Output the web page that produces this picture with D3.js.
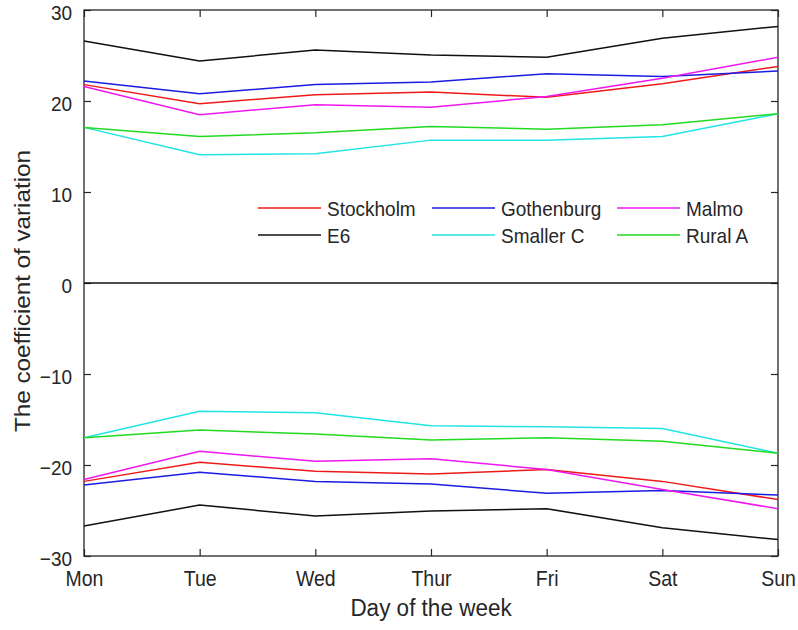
<!DOCTYPE html>
<html>
<head>
<meta charset="utf-8">
<script src="https://cdn.jsdelivr.net/npm/d3@7/dist/d3.min.js"></script>
<style>
  html, body { margin: 0; padding: 0; background: #ffffff; }
  svg text { font-family: Arial, "Liberation Sans", Helvetica, sans-serif; fill: #262626; }
</style>
</head>
<body>
<svg id="chart" width="798" height="630"></svg>
<script>
// Days on the x axis
const days = ["Mon", "Tue", "Wed", "Thur", "Fri", "Sat", "Sun"];
const yTicks = [-30, -20, -10, 0, 10, 20, 30];

// Upper envelope of the coefficient of variation per region
const stockholmUpper  = [21.8, 19.7, 20.7, 21.0, 20.4, 21.9, 23.8];
const gothenburgUpper = [22.2, 20.8, 21.8, 22.1, 23.0, 22.7, 23.3];
const malmoUpper      = [21.6, 18.5, 19.6, 19.3, 20.5, 22.5, 24.8];
const e6Upper         = [26.6, 24.4, 25.6, 25.05, 24.8, 26.9, 28.2];
const smallerCUpper   = [17.1, 14.1, 14.2, 15.7, 15.7, 16.1, 18.6];
const ruralAUpper     = [17.1, 16.1, 16.5, 17.2, 16.9, 17.4, 18.6];

// Lower envelope
const stockholmLower  = [-21.8, -19.7, -20.7, -21.0, -20.5, -21.8, -23.8];
const gothenburgLower = [-22.2, -20.8, -21.8, -22.1, -23.1, -22.8, -23.3];
const malmoLower      = [-21.6, -18.5, -19.6, -19.3, -20.5, -22.7, -24.8];
const e6Lower         = [-26.7, -24.4, -25.6, -25.05, -24.8, -26.9, -28.2];
const smallerCLower   = [-17.0, -14.1, -14.25, -15.7, -15.8, -16.0, -18.7];
const ruralALower     = [-17.0, -16.15, -16.6, -17.25, -17.0, -17.4, -18.7];

// Zero reference line
const zeroLine = [0, 0, 0, 0, 0, 0, 0];

const seriesNames  = ["Stockholm", "Gothenburg", "Malmo", "E6", "Smaller C", "Rural A"];
const seriesColors = ["#ee1a1a", "#1c1ce0", "#ee18ee", "#111111", "#22e4e4", "#22da22"];

const series = [
  { name: seriesNames[0], color: seriesColors[0], upper: stockholmUpper,  lower: stockholmLower },
  { name: seriesNames[1], color: seriesColors[1], upper: gothenburgUpper, lower: gothenburgLower },
  { name: seriesNames[2], color: seriesColors[2], upper: malmoUpper,      lower: malmoLower },
  { name: seriesNames[3], color: seriesColors[3], upper: e6Upper,         lower: e6Lower },
  { name: seriesNames[4], color: seriesColors[4], upper: smallerCUpper,   lower: smallerCLower },
  { name: seriesNames[5], color: seriesColors[5], upper: ruralAUpper,     lower: ruralALower }
];

const svg = d3.select("#chart");
const plotLeft = 84, plotRight = 778, plotTop = 10, plotBottom = 556;
const axisColor = "#262626";
const stretch = 1.1; // text is drawn slightly taller than wide

const x = d3.scalePoint().domain(days).range([plotLeft, plotRight]);
const y = d3.scaleLinear().domain([-30, 30]).range([plotBottom, plotTop]);

// Plot box
svg.append("rect")
  .attr("x", plotLeft).attr("y", plotTop)
  .attr("width", plotRight - plotLeft).attr("height", plotBottom - plotTop)
  .attr("fill", "#ffffff").attr("stroke", axisColor).attr("stroke-width", 1.3);

// Inward ticks on all four sides
function styleAxis(g) {
  g.select(".domain").remove();
  g.selectAll(".tick line").attr("stroke", axisColor).attr("stroke-width", 1.2);
}

svg.append("g").attr("transform", `translate(0,${plotBottom})`)
  .call(d3.axisBottom(x).tickSizeInner(-7).tickSizeOuter(0).tickPadding(0))
  .call(styleAxis)
  .call(g => g.selectAll(".tick text")
    .attr("y", 0).attr("dy", null)
    .attr("font-size", 19.5)
    .attr("text-anchor", "middle")
    .attr("transform", `translate(0,${30}) scale(1,${stretch})`));

svg.append("g").attr("transform", `translate(0,${plotTop})`)
  .call(d3.axisTop(x).tickSizeInner(-7).tickSizeOuter(0).tickFormat(""))
  .call(styleAxis);

svg.append("g").attr("transform", `translate(${plotLeft},0)`)
  .call(d3.axisLeft(y).tickValues(yTicks).tickSizeInner(-7).tickSizeOuter(0).tickPadding(0))
  .call(styleAxis)
  .call(g => g.selectAll(".tick text")
    .attr("x", 0).attr("dy", null)
    .attr("font-size", 19)
    .attr("text-anchor", "end")
    .attr("transform", `translate(-12,${9}) scale(1,1.07)`));

svg.append("g").attr("transform", `translate(${plotRight},0)`)
  .call(d3.axisRight(y).tickValues(yTicks).tickSizeInner(-7).tickSizeOuter(0).tickFormat(""))
  .call(styleAxis);

// Lines
const line = d3.line()
  .x((d, i) => x(days[i]))
  .y(d => y(d));

const lines = svg.append("g").attr("fill", "none").attr("stroke-width", 1.5)
  .attr("stroke-linejoin", "round");

lines.append("path").attr("d", line(zeroLine)).attr("stroke", "#111111");

series.forEach(s => {
  lines.append("path").attr("d", line(s.upper)).attr("stroke", s.color);
  lines.append("path").attr("d", line(s.lower)).attr("stroke", s.color);
});

// Legend: three columns, two rows
const legendCols = [258, 432, 617];
const legendRows = [208, 235];
const legend = svg.append("g");
series.forEach((s, i) => {
  const cx = legendCols[i % 3];
  const cy = legendRows[Math.floor(i / 3)];
  legend.append("line")
    .attr("x1", cx).attr("x2", cx + 63)
    .attr("y1", cy).attr("y2", cy)
    .attr("stroke", s.color).attr("stroke-width", 1.5);
  legend.append("text")
    .attr("transform", `translate(${cx + 69},${cy + 7.5}) scale(1,${stretch})`)
    .attr("font-size", 19)
    .text(s.name);
});

// Axis titles
svg.append("text")
  .attr("transform", `translate(${431},${616}) scale(1,${stretch})`)
  .attr("text-anchor", "middle")
  .attr("font-size", 22.5)
  .text("Day of the week");

svg.append("text")
  .attr("transform", `translate(${30},${291}) rotate(-90) scale(${stretch},1)`)
  .attr("text-anchor", "middle")
  .attr("font-size", 22)
  .text("The coefficient of variation");
</script>
</body>
</html>
